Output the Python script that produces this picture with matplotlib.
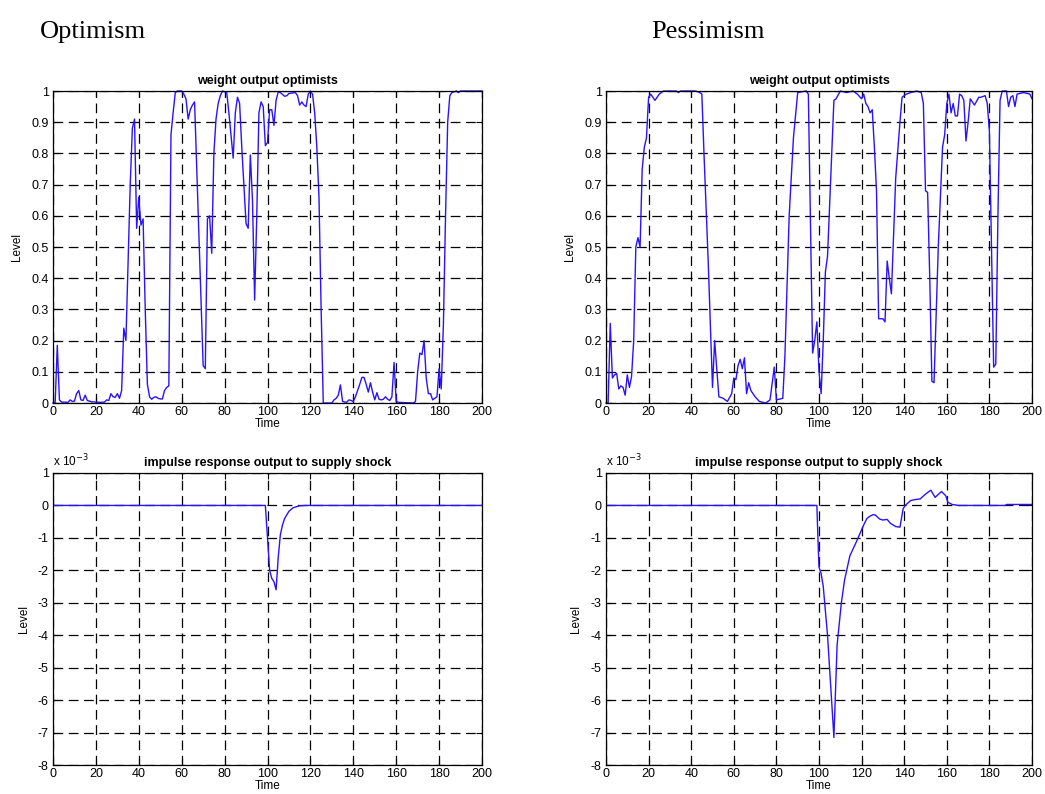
import matplotlib
matplotlib.use("Agg")
import matplotlib.pyplot as plt

# weight of optimists, optimism scenario
opt_w_t = [0, 1, 2, 3, 4, 7, 8, 9, 10, 11, 12, 13, 14, 15, 16, 18, 20, 22, 24, 25, 26, 27, 28, 29, 30,
           31, 32, 33, 34, 35, 36, 37, 38, 39, 40, 41, 42, 43, 44, 45, 46, 47, 48, 49, 50, 51, 52, 53, 54,
           55, 56, 57, 58, 60, 61, 62, 63, 64, 65, 66, 70, 71, 72, 73, 74, 75, 76, 77, 78, 79, 81, 82, 84,
           85, 86, 87, 88, 89, 90, 91, 92, 93, 94, 95, 96, 97, 98, 99, 100, 101, 102, 103, 104, 105, 106,
           108, 109, 110, 113, 114, 115, 116, 117, 118, 119, 120, 121, 122, 123, 124, 125, 126, 130, 131,
           132, 133, 134, 135, 136, 137, 138, 139, 140, 141, 142, 143, 144, 145, 146, 147, 148, 149, 150,
           151, 152, 153, 154, 155, 156, 157, 158, 159, 160, 161, 168, 169, 170, 171, 172, 173, 174, 175,
           176, 177, 179, 180, 181, 182, 183, 184, 185, 186, 188, 189, 190, 200]
opt_w = [0, 0, 0.185, 0.01, 0.003, 0.002, 0.01, 0.005, 0.006, 0.03, 0.04, 0.01, 0.008, 0.025, 0.008, 0.004,
         0.003, 0.002, 0.003, 0.01, 0.008, 0.03, 0.02, 0.018, 0.03, 0.015, 0.04, 0.24, 0.2, 0.45, 0.7, 0.88,
         0.91, 0.56, 0.66, 0.57, 0.59, 0.3, 0.06, 0.02, 0.012, 0.018, 0.02, 0.015, 0.013, 0.013, 0.04, 0.05,
         0.055, 0.86, 0.93, 0.995, 1.0, 1.0, 0.99, 0.975, 0.91, 0.94, 0.955, 0.965, 0.12, 0.11, 0.59, 0.6,
         0.48, 0.8, 0.91, 0.96, 0.985, 1.0, 0.995, 0.93, 0.785, 0.93, 0.98, 0.96, 0.82, 0.7, 0.575, 0.56,
         0.795, 0.65, 0.33, 0.6, 0.93, 0.965, 0.95, 0.825, 0.835, 0.94, 0.94, 0.89, 0.97, 0.997, 0.995,
         0.983, 0.985, 0.992, 0.995, 0.985, 0.955, 0.965, 0.955, 0.95, 0.99, 1.0, 0.99, 0.93, 0.82, 0.66,
         0.3, 0.0, 0.0, 0.01, 0.015, 0.025, 0.058, 0.005, 0.003, 0.003, 0.01, 0.008, 0.005, 0.02, 0.04,
         0.06, 0.082, 0.082, 0.06, 0.035, 0.065, 0.035, 0.01, 0.033, 0.012, 0.01, 0.012, 0.02, 0.012, 0.008,
         0.02, 0.13, 0.005, 0.002, 0.0, 0.005, 0.1, 0.16, 0.155, 0.2, 0.08, 0.03, 0.03, 0.01, 0.02, 0.11,
         0.045, 0.25, 0.6, 0.9, 0.985, 0.995, 1.0, 0.995, 1.0, 1.0]

# weight of optimists, pessimism scenario
pes_w_t = [0, 1, 2, 3, 4, 5, 6, 7, 8, 9, 10, 11, 12, 13, 14, 15, 16, 17, 18, 19, 20, 21, 23, 25, 27, 33,
           34, 35, 42, 44, 45, 46, 48, 50, 51, 53, 55, 57, 59, 60, 61, 62, 63, 64, 65, 66, 67, 68, 70, 72,
           75, 77, 79, 80, 83, 84, 86, 88, 90, 94, 95, 97, 98, 99, 100, 101, 102, 103, 104, 106, 107, 108,
           110, 113, 116, 118, 120, 121, 122, 123, 124, 125, 126, 127, 128, 130, 131, 132, 133, 134, 136,
           138, 139, 141, 143, 146, 148, 149, 150, 151, 152, 153, 154, 156, 158, 159, 160, 161, 162, 163,
           164, 165, 166, 167, 168, 169, 170, 171, 173, 175, 176, 178, 179, 180, 181, 182, 183, 184, 185,
           186, 188, 189, 190, 191, 192, 193, 196, 199, 200]
pes_w = [0, 0, 0.255, 0.08, 0.09, 0.095, 0.045, 0.055, 0.05, 0.025, 0.09, 0.05, 0.085, 0.2, 0.5, 0.53, 0.5,
         0.75, 0.82, 0.85, 0.98, 0.99, 0.97, 0.99, 1.0, 1.0, 0.995, 1.0, 1.0, 0.995, 0.99, 0.8, 0.45, 0.05,
         0.2, 0.02, 0.015, 0.005, 0.03, 0.08, 0.075, 0.12, 0.14, 0.11, 0.145, 0.03, 0.065, 0.04, 0.02,
         0.005, 0.0, 0.01, 0.115, 0.01, 0.015, 0.15, 0.6, 0.85, 0.995, 1.0, 0.99, 0.16, 0.2, 0.26, 0.1,
         0.03, 0.2, 0.42, 0.47, 0.8, 0.97, 0.975, 1.0, 0.995, 1.0, 0.99, 0.975, 0.99, 0.96, 0.95, 0.93,
         0.94, 0.82, 0.68, 0.27, 0.27, 0.26, 0.455, 0.4, 0.35, 0.72, 0.9, 0.98, 0.99, 0.995, 1.0, 0.995,
         0.96, 0.68, 0.675, 0.4, 0.07, 0.065, 0.5, 0.82, 0.86, 0.96, 0.99, 0.93, 0.96, 0.92, 0.92, 0.99,
         0.985, 0.97, 0.84, 0.9, 0.975, 0.955, 0.98, 0.98, 0.985, 0.96, 0.87, 0.5, 0.115, 0.125, 0.6, 0.97,
         1.0, 1.0, 0.95, 0.98, 0.985, 0.95, 0.99, 0.995, 0.99, 0.975]

# impulse responses (x 10^-3)
opt_irf_t = [0, 99, 100, 101, 102, 103, 104, 105, 106, 107, 108, 110, 112, 115, 118, 200]
opt_irf = [0, 0, -1.0, -2.0, -2.25, -2.35, -2.6, -1.6, -0.9, -0.6, -0.4, -0.18, -0.07, -0.01, 0, 0]

pes_irf_t = [0, 99, 99.5, 100, 101, 102, 104, 107, 108.5, 110.5, 112, 114.5, 117, 119, 121, 122.5, 124,
             125.5, 126.5, 128.5, 130, 132, 133.5, 136, 138, 139.5, 140.5, 143, 145, 147.5, 150, 152.5,
             154.5, 157.5, 159.5, 160.5, 162.5, 165.5, 187.5, 188, 200]
pes_irf = [0, 0, -1.0, -1.9, -2.1, -2.5, -4.0, -7.15, -4.3, -3.0, -2.3, -1.55, -1.2, -0.9, -0.6, -0.4,
           -0.33, -0.28, -0.3, -0.42, -0.45, -0.43, -0.55, -0.65, -0.67, -0.1, 0.0, 0.15, 0.18, 0.2, 0.35,
           0.47, 0.25, 0.43, 0.3, 0.1, 0.03, 0.0, 0.0, 0.03, 0.03]

plt.rcParams['font.family'] = ['Liberation Sans', 'DejaVu Sans']
plt.rcParams['lines.scale_dashes'] = False

fig = plt.figure(figsize=(10.45, 7.94), dpi=100)

W = 1045.0
H = 794.0
def place(x0, y0, x1, y1):
    return fig.add_axes([x0 / W, 1 - y1 / H, (x1 - x0) / W, (y1 - y0) / H])

ax_ow = place(53, 91, 482, 403)
ax_pw = place(606, 91, 1032, 403)
ax_oi = place(53, 473, 482, 765)
ax_pi = place(606, 473, 1032, 765)

line_col = '#2a12ff'

def style(ax, title, ylim, yticks, ylabels):
    ax.set_xlim(0, 200)
    ax.set_ylim(*ylim)
    ax.set_xticks(range(0, 201, 20))
    ax.set_yticks(yticks)
    ax.set_yticklabels(ylabels)
    ax.tick_params(direction='in', top=True, right=True, length=4, width=0.8, labelsize=9, pad=3)
    ax.tick_params(axis='x', pad=2)
    ax.grid(True, color='black', linestyle=(0, (7, 4)), linewidth=0.9)
    for s in ax.spines.values():
        s.set_linewidth(0.9)
    ax.set_title(title, fontsize=9, fontweight='bold', pad=5)
    ax.set_xlabel('Time', fontsize=8.5, labelpad=0)
    ax.set_ylabel('Level', fontsize=8.5, labelpad=6)

wt = [i / 10 for i in range(11)]
wl = ['0'] + ['%.1f' % v for v in wt[1:-1]] + ['1']
it = list(range(-8, 2))
il = [str(v) for v in it]

ax_ow.plot(opt_w_t, opt_w, color=line_col, lw=1.0, clip_on=False)
style(ax_ow, 'weight output optimists', (0, 1), wt, wl)
ax_pw.plot(pes_w_t, pes_w, color=line_col, lw=1.0, clip_on=False)
style(ax_pw, 'weight output optimists', (0, 1), wt, wl)

ax_oi.plot(opt_irf_t, opt_irf, color=line_col, lw=1.0)
style(ax_oi, 'impulse response output to supply shock', (-8, 1), it, il)
ax_pi.plot(pes_irf_t, pes_irf, color=line_col, lw=1.0)
style(ax_pi, 'impulse response output to supply shock', (-8, 1), it, il)

for ax in (ax_oi, ax_pi):
    ax.text(0, 1.012, r'x 10$^{-3}$', transform=ax.transAxes, fontsize=8.5, ha='left', va='bottom')

fig.text(40 / W, 1 - 32 / H, 'Optimism', fontsize=19, family='Liberation Serif', va='center', ha='left')
fig.text(651 / W, 1 - 32 / H, 'Pessimism', fontsize=19, family='Liberation Serif', va='center', ha='left')

plt.savefig('out.png', dpi=100)
